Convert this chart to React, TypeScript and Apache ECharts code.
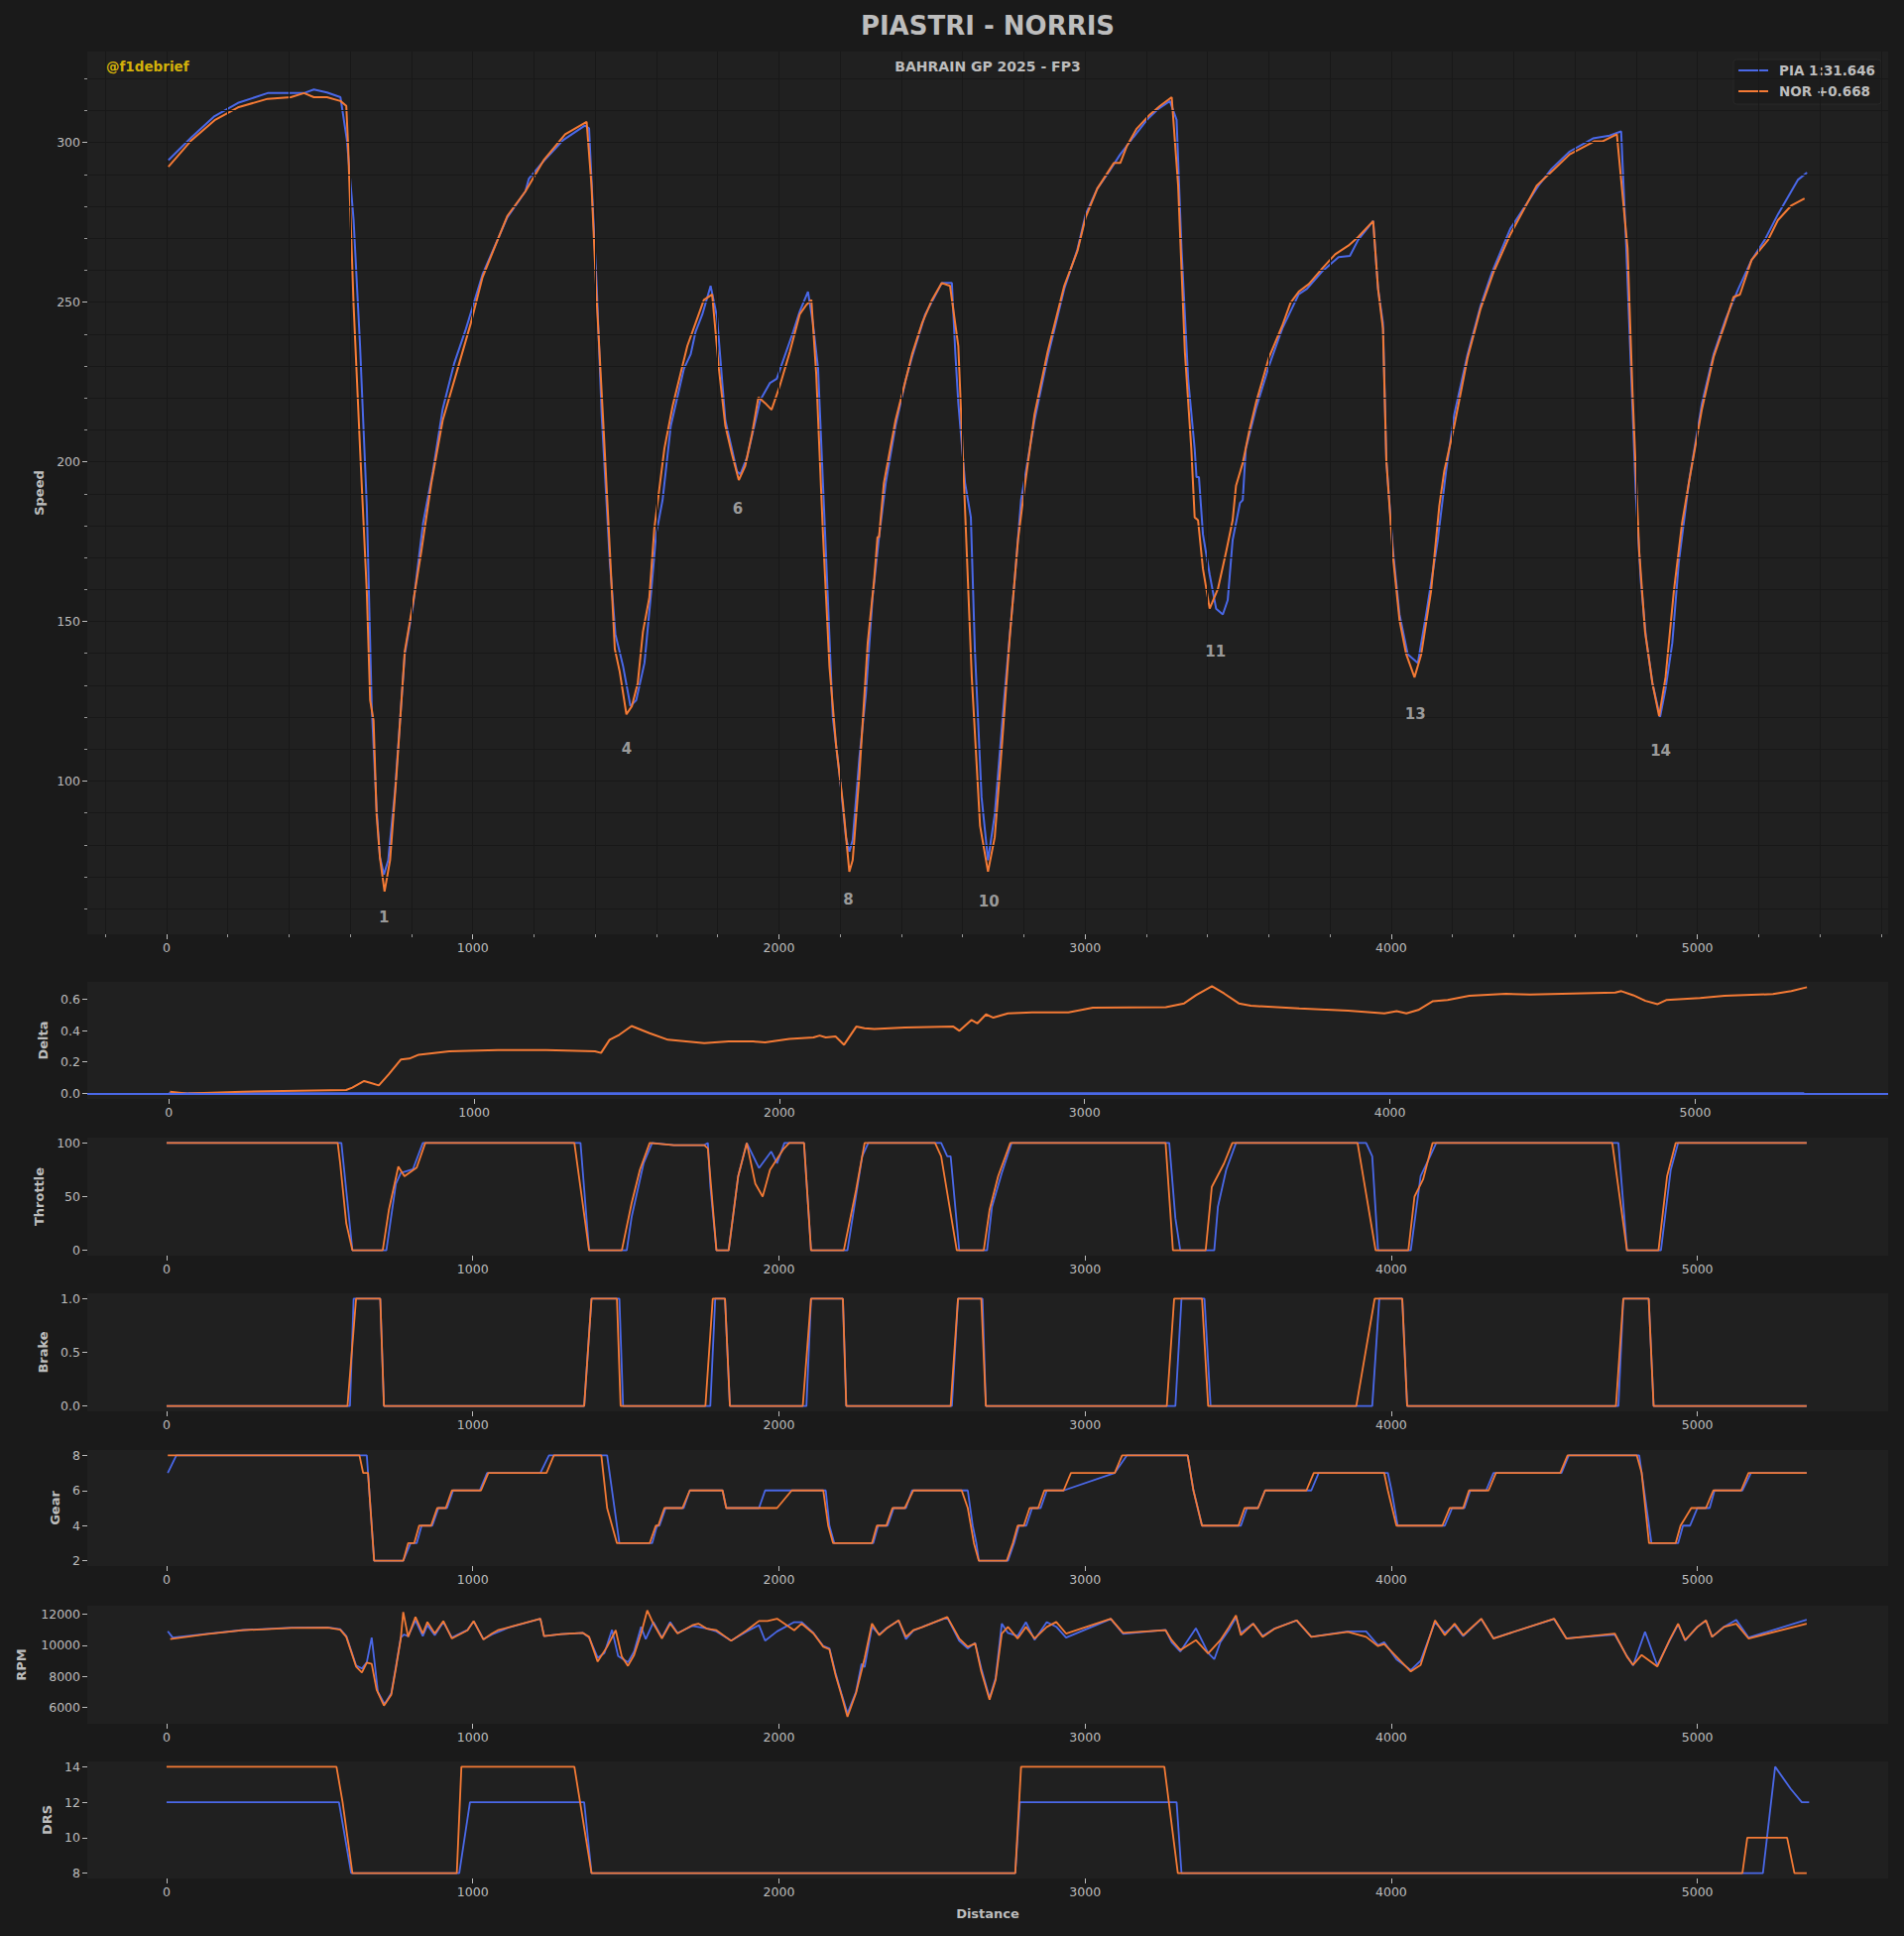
import React, { useEffect, useRef } from "react";
import * as echarts from "echarts";

const PIA_NAME = "PIA 1:31.646";
const NOR_NAME = "NOR +0.668";

const speedPIA: number[][] = [
  [6,294.5],[82,301.7],[157,308.3],[233,312.4],[330,315.5],[406,315.5],[449,315.5],[481,316.6],[524,315.7],[568,314.2],
  [589,300.8],[611,275.7],[632,236.3],[654,186.2],[670,123.5],[686,91.3],[697,76.1],[710,70.7],[724,75.2],[746,96.7],
  [778,139.7],[805,154.9],[838,180.9],[870,197],[902,216.6],[940,231],[978,241.7],[1032,258.7],[1113,276.6],[1172,284.7],
  [1183,288.6],[1226,293.6],[1296,300.8],[1366,305.3],[1380,304.5],[1392,280],[1405,255],[1421,215],[1448,168.3],[1466,146],
  [1491,136],[1515,123.5],[1534,125.3],[1561,137],[1583,159.4],[1599,177.3],[1620,188],[1647,211.3],[1690,229.2],[1712,233.7],
  [1728,240.8],[1750,246.2],[1777,255.1],[1798,245.3],[1825,213],[1863,197],[1874,196.1],[1896,201.4],[1939,219.3],[1971,224.7],
  [1993,226],[2047,240.8],[2068,247.1],[2095,253.3],[2111,243.5],[2128,229.2],[2155,168.3],[2176,120],[2198,102.1],[2219,82.4],
  [2230,77.9],[2241,81.5],[2263,107.4],[2284,127.1],[2306,157.6],[2327,176.4],[2349,193.4],[2381,211.3],[2414,225.6],[2435,232.8],
  [2478,246.2],[2532,256],[2565,256],[2576,234.5],[2586,218.4],[2608,193.4],[2627,182.6],[2640,141.4],[2662,94.9],[2683,75.2],
  [2705,89.5],[2737,127.1],[2770,162.9],[2791,188],[2835,213],[2878,232.8],[2932,254.2],[2975,266.5],[3002,277.5],[3040,285.6],
  [3072,290],[3115,296.3],[3158,301.7],[3202,307.1],[3240,310.6],[3277,313],[3299,307.1],[3315,266.8],[3337,225.6],[3358,204.1],
  [3364,195.2],[3372,195.2],[3385,177.3],[3407,164.7],[3428,154],[3450,152.2],[3466,156.7],[3482,175.5],[3506,187.1],[3515,188],
  [3525,204.1],[3558,216.6],[3601,230.1],[3644,241.7],[3698,252.5],[3725,254.2],[3774,259.6],[3828,264.1],[3865,264.5],[3892,269.5],
  [3941,275.4],[3957,254.2],[3973,243.5],[3984,200.5],[4006,171.9],[4027,152.2],[4054,139.7],[4087,137],[4114,152.2],[4152,175.5],
  [4179,197],[4206,214.9],[4249,233.5],[4292,248.9],[4330,259.6],[4389,273],[4438,280.2],[4481,286.5],[4524,291.8],[4583,297.2],
  [4659,301.3],[4713,302.2],[4751,303.5],[4767,268.6],[4783,229.2],[4799,189.8],[4815,162.9],[4832,145],[4853,130.7],[4878,120],
  [4896,128.9],[4918,143.2],[4939,168.3],[4972,193.4],[5015,218.4],[5053,233.7],[5091,244.4],[5134,254.2],[5177,263.2],[5220,269.5],
  [5263,277.5],[5328,288.3],[5358,290.6]
];

const speedNOR: number[][] = [
  [6,292.4],[82,300.8],[157,307],[233,311],[330,313.7],[406,314.2],[449,315.5],[481,314.2],[524,314.2],[568,313],
  [587,311.5],[593,299],[611,248.9],[632,204],[654,159.3],[665,125.3],[676,119],[686,89.5],[697,76],[712,65.4],
  [730,75.2],[751,102],[778,140.6],[805,155.8],[832,171.9],[865,193.4],[902,213],[951,229.2],[994,243.5],[1032,257.8],
  [1113,277],[1172,284.7],[1232,294.5],[1302,302.6],[1372,306.5],[1388,286.5],[1404,252.4],[1426,213],[1448,171.9],[1464,141.4],
  [1480,134.3],[1502,120.9],[1520,123.5],[1539,130.7],[1556,146.8],[1577,157.6],[1593,179],[1626,204.1],[1653,217.5],[1701,236.3],
  [1728,243.5],[1755,250.7],[1782,252.4],[1804,229.2],[1825,211.3],[1847,202.3],[1869,194.3],[1890,198.7],[1912,208.6],[1933,220.2],
  [1955,218.4],[1976,216.3],[2003,223.8],[2036,234.5],[2068,246.2],[2090,249.2],[2106,250.7],[2122,227.4],[2144,177.3],[2165,136.1],
  [2187,111],[2209,93.1],[2230,71.6],[2241,75.2],[2263,102.1],[2290,143.2],[2311,162.9],[2322,176.4],[2327,176.4],[2343,193.4],
  [2381,213],[2414,225.6],[2435,233.7],[2468,243.5],[2500,250.7],[2532,256],[2559,255.1],[2586,236.3],[2603,197],[2630,132.5],
  [2657,86],[2683,71.6],[2705,82.4],[2727,109.2],[2754,145],[2781,175.5],[2802,191.6],[2835,214.9],[2878,234.5],[2932,255.1],
  [2975,266],[3002,276.6],[3040,285.6],[3094,293.6],[3115,293.6],[3137,299],[3169,304.4],[3212,308.8],[3245,311.5],[3283,314.2],
  [3304,286.5],[3326,234.5],[3347,204.1],[3358,182.6],[3369,181.7],[3385,166.5],[3407,154],[3434,160.2],[3461,171.9],[3482,181.7],
  [3493,192.5],[3515,199.6],[3536,209.5],[3558,218.4],[3601,232.8],[3644,242.6],[3671,249.8],[3698,253.3],[3731,255.7],[3774,260.5],
  [3817,265],[3860,267.7],[3892,270.4],[3941,275.4],[3957,254.2],[3973,241.7],[3984,200.5],[4006,170.1],[4027,150.4],[4049,139.7],
  [4076,132.5],[4098,139.7],[4130,159.4],[4157,186.2],[4173,197],[4206,211.3],[4249,232.4],[4292,248],[4335,259.6],[4389,271.2],
  [4475,286.5],[4524,290.9],[4583,296.3],[4664,300.4],[4691,300.4],[4737,302.6],[4751,288.3],[4772,266.8],[4788,222],[4810,171.9],
  [4829,146.8],[4853,130.7],[4875,120.3],[4896,132.5],[4923,159.4],[4950,180.8],[4977,196.1],[5015,216.6],[5053,232.8],[5091,243.5],
  [5118,251.6],[5139,252.4],[5177,263.2],[5231,269.5],[5263,275.7],[5306,280.2],[5350,282.5]
];

const deltaPIA: number[][] = [[0, 0], [5357, 0]];

const deltaNOR: number[][] = [
  [4,0.01],[64,-0.002],[243,0.01],[581,0.021],[601,0.036],[640,0.078],[660,0.067],[688,0.05],[720,0.12],[760,0.215],
  [788,0.221],[819,0.246],[919,0.267],[1078,0.276],[1237,0.276],[1396,0.267],[1416,0.257],[1444,0.341],[1476,0.373],[1516,0.429],
  [1575,0.383],[1635,0.341],[1754,0.32],[1834,0.33],[1914,0.33],[1953,0.324],[2033,0.347],[2112,0.356],[2132,0.368],[2152,0.356],
  [2184,0.362],[2212,0.309],[2252,0.425],[2279,0.415],[2311,0.41],[2411,0.419],[2570,0.425],[2590,0.398],[2629,0.467],[2649,0.446],
  [2677,0.503],[2701,0.482],[2749,0.509],[2828,0.516],[2947,0.516],[3027,0.545],[3266,0.549],[3326,0.573],[3365,0.625],[3417,0.682],
  [3457,0.636],[3505,0.573],[3544,0.558],[3703,0.541],[3863,0.526],[3982,0.509],[4022,0.524],[4054,0.509],[4093,0.531],[4141,0.587],
  [4189,0.594],[4260,0.621],[4380,0.634],[4459,0.629],[4738,0.642],[4758,0.651],[4797,0.625],[4837,0.589],[4877,0.568],[4905,0.594],
  [5016,0.608],[5096,0.621],[5255,0.632],[5315,0.651],[5366,0.676]
];

const throttlePIA: number[][] = [
  [0,100],[571,100],[607,0],[718,0],[749,62],[765,72],[805,75.6],[837,100],[1352,100],[1380,0],
  [1503,0],[1519,31],[1558,81],[1586,100],[1657,98],[1756,98],[1768,100],[1776,60],[1796,0],[1836,0],
  [1867,69],[1895,100],[1935,76.6],[1975,92],[1994,81],[2018,100],[2082,100],[2105,0],[2224,0],[2272,87.5],
  [2292,100],[2530,100],[2550,87.5],[2561,87.5],[2589,0],[2680,0],[2696,40.6],[2728,72],[2760,100],[3275,100],
  [3295,30],[3311,0],[3422,0],[3434,40.6],[3461,75],[3493,100],[3918,100],[3938,87.5],[3957,0],[4064,0],
  [4096,69],[4127,87.5],[4147,100],[4742,100],[4770,0],[4881,0],[4913,75],[4937,100],[5357,100]
];

const throttleNOR: number[][] = [
  [0,100],[559,100],[567,81],[587,25],[607,0],[706,0],[726,37.5],[757,78],[777,69],[817,77],
  [845,100],[1332,100],[1380,0],[1487,0],[1519,44],[1546,75],[1578,100],[1657,98],[1756,98],[1768,95],
  [1796,0],[1836,0],[1867,69],[1895,100],[1923,62],[1947,50],[1971,75],[2014,94],[2034,100],[2082,100],
  [2105,0],[2212,0],[2252,56],[2280,100],[2510,100],[2530,87.5],[2581,0],[2669,0],[2688,37.5],[2716,69],
  [2756,100],[3263,100],[3287,0],[3394,0],[3414,59],[3454,81],[3481,100],[3890,100],[3949,0],[4056,0],
  [4076,50],[4104,66],[4135,100],[4722,100],[4770,0],[4873,0],[4901,69],[4929,100],[5357,100]
];

const brakePIA: number[][] = [
  [0,0],[599,0],[611,1],[698,1],[710,0],[1364,0],[1388,1],[1479,1],[1491,0],[1776,0],
  [1792,1],[1824,1],[1840,0],[2090,0],[2105,1],[2209,1],[2220,0],[2565,0],[2585,1],[2665,1],
  [2676,0],[3295,0],[3315,1],[3390,1],[3410,0],[3938,0],[3961,1],[4036,1],[4052,0],[4742,0],
  [4758,1],[4841,1],[4857,0],[5357,0]
];

const brakeNOR: number[][] = [
  [0,0],[591,0],[619,1],[698,1],[710,0],[1364,0],[1388,1],[1471,1],[1483,0],[1760,0],
  [1784,1],[1824,1],[1840,0],[2078,0],[2105,1],[2209,1],[2220,0],[2561,0],[2585,1],[2661,1],
  [2676,0],[3267,0],[3291,1],[3382,1],[3402,0],[3886,0],[3946,1],[4036,1],[4052,0],[4734,0],
  [4758,1],[4841,1],[4857,0],[5357,0]
];

const gearPIA: number[][] = [
  [4,7],[32,8],[654,8],[678,2],[773,2],[797,3],[817,3],[833,4],[868,4],[888,5],
  [916,5],[936,6],[1023,6],[1047,7],[1221,7],[1249,8],[1439,8],[1479,3],[1586,3],[1602,4],
  [1610,4],[1630,5],[1689,5],[1709,6],[1816,6],[1828,5],[1935,5],[1955,6],[2153,6],[2165,4],
  [2181,3],[2308,3],[2324,4],[2355,4],[2375,5],[2415,5],[2435,6],[2617,6],[2633,4],[2645,3],
  [2653,2],[2748,2],[2768,3],[2784,4],[2808,4],[2827,5],[2855,5],[2875,6],[2930,6],[3097,7],
  [3137,8],[3335,8],[3354,6],[3382,4],[3509,4],[3529,5],[3565,5],[3588,6],[3739,6],[3763,7],
  [3989,7],[4001,6],[4021,4],[4175,4],[4199,5],[4239,5],[4258,6],[4310,6],[4334,7],[4556,7],
  [4580,8],[4810,8],[4850,3],[4937,3],[4953,4],[4976,4],[5000,5],[5040,5],[5056,6],[5147,6],
  [5175,7],[5357,7]
];

const gearNOR: number[][] = [
  [4,8],[630,8],[642,7],[658,7],[678,2],[773,2],[789,3],[809,3],[825,4],[864,4],
  [884,5],[912,5],[932,6],[1027,6],[1051,7],[1241,7],[1265,8],[1420,8],[1439,5],[1471,3],
  [1578,3],[1598,4],[1606,4],[1626,5],[1685,5],[1709,6],[1816,6],[1828,5],[1994,5],[2042,6],
  [2145,6],[2161,4],[2177,3],[2304,3],[2320,4],[2351,4],[2371,5],[2411,5],[2439,6],[2597,6],
  [2617,5],[2637,3],[2653,2],[2744,2],[2764,3],[2780,4],[2800,4],[2819,5],[2847,5],[2867,6],
  [2930,6],[2954,7],[3097,7],[3121,8],[3335,8],[3354,6],[3382,4],[3501,4],[3521,5],[3565,5],
  [3588,6],[3723,6],[3747,7],[3977,7],[3989,6],[4017,4],[4167,4],[4191,5],[4235,5],[4254,6],
  [4318,6],[4342,7],[4552,7],[4576,8],[4802,8],[4818,7],[4842,3],[4929,3],[4945,4],[4980,5],
  [5028,5],[5052,6],[5143,6],[5167,7],[5357,7]
];

const rpmPIA: number[][] = [
  [4,10911],[20,10500],[131,10740],[250,10990],[408,11140],[527,11160],[567,11040],[587,10600],[619,8700],[638,8500],
  [654,8900],[670,10500],[680,8800],[690,7000],[712,6200],[734,6900],[749,8600],[765,10500],[775,10700],[789,10600],
  [813,11600],[837,10600],[852,11300],[876,10650],[904,11500],[932,10500],[983,11000],[1003,11550],[1035,10400],[1063,10700],
  [1122,11180],[1221,11720],[1233,10600],[1289,10720],[1360,10800],[1380,10500],[1408,9200],[1430,9500],[1455,11000],[1475,9300],
  [1507,8900],[1527,9600],[1550,11200],[1565,10400],[1590,11500],[1618,10500],[1645,11500],[1669,10800],[1717,11250],[1764,11100],
  [1796,10900],[1844,10300],[1895,10900],[1935,11300],[1955,10300],[1994,10900],[2050,11500],[2074,11500],[2113,10800],[2145,9950],
  [2165,9800],[2185,8200],[2204,6900],[2224,5600],[2252,7000],[2270,8800],[2280,8600],[2304,11200],[2328,10700],[2351,11100],
  [2391,11600],[2415,10400],[2439,10950],[2470,11200],[2550,11800],[2589,10300],[2617,9800],[2641,10150],[2661,8500],[2688,6600],
  [2708,7900],[2728,11400],[2748,10800],[2780,10600],[2807,11500],[2835,10350],[2875,11500],[2906,11200],[2938,10500],[3084,11700],
  [3124,10750],[3263,11000],[3283,10200],[3311,9600],[3362,11100],[3402,9500],[3422,9100],[3442,10200],[3470,11000],[3493,11800],
  [3509,10800],[3549,11400],[3580,10600],[3620,11100],[3691,11600],[3739,10550],[3858,10900],[3918,10900],[3957,10000],[3977,10200],
  [4017,9100],[4064,8400],[4096,9000],[4143,11500],[4175,10800],[4207,11300],[4235,10600],[4294,11700],[4334,10450],[4532,11700],
  [4572,10450],[4730,10700],[4770,9300],[4790,8700],[4829,10868],[4869,8700],[4909,10300],[4937,11350],[4960,10300],[5000,11200],
  [5028,11600],[5048,10550],[5087,11200],[5127,11650],[5167,10500],[5357,11658]
];

const rpmNOR: number[][] = [
  [12,10399],[131,10719],[250,10975],[408,11125],[527,11146],[567,11018],[587,10548],[619,8627],[638,8242],[654,8883],
  [670,8798],[686,7132],[710,6107],[734,6812],[749,8520],[765,10441],[773,12149],[789,10548],[813,11829],[837,10762],
  [852,11509],[876,10762],[904,11573],[932,10441],[983,10975],[1003,11573],[1035,10377],[1063,10762],[1082,10975],[1122,11189],
  [1221,11722],[1233,10591],[1289,10719],[1360,10804],[1380,10548],[1408,8947],[1439,9908],[1467,10975],[1487,9267],[1507,8670],
  [1527,9374],[1550,10762],[1570,12256],[1590,11402],[1618,10441],[1645,11402],[1669,10762],[1717,11295],[1737,11402],[1764,11082],
  [1796,10975],[1844,10292],[1895,10975],[1935,11573],[1963,11573],[1994,11722],[2026,11295],[2050,10975],[2074,11402],[2113,10762],
  [2145,9908],[2165,9737],[2185,8093],[2204,6812],[2224,5381],[2252,6919],[2280,9160],[2304,11402],[2328,10655],[2351,11082],
  [2391,11616],[2415,10548],[2439,10975],[2470,11189],[2550,11829],[2589,10441],[2617,9908],[2641,10121],[2661,8306],[2688,6492],
  [2708,7773],[2728,10762],[2748,11189],[2780,10441],[2807,11189],[2835,10441],[2875,11189],[2906,11509],[2938,10762],[3084,11722],
  [3124,10804],[3263,10975],[3283,10335],[3311,9694],[3362,10335],[3402,9481],[3442,10335],[3470,11189],[3493,11936],[3509,10655],
  [3549,11402],[3580,10548],[3620,11082],[3691,11616],[3739,10548],[3858,10868],[3918,10548],[3957,9950],[3977,10078],[4017,9267],
  [4064,8306],[4096,8733],[4143,11616],[4175,10655],[4207,11402],[4235,10655],[4294,11722],[4334,10441],[4532,11722],[4572,10441],
  [4730,10762],[4770,9267],[4790,8733],[4818,9374],[4869,8627],[4909,10335],[4937,11402],[4960,10335],[5000,11189],[5028,11616],
  [5048,10548],[5087,11189],[5127,11402],[5167,10441],[5357,11402]
];

const drsPIA: number[][] = [
  [0,12],[563,12],[603,8],[956,8],[991,12],[1364,12],[1388,8],[2772,8],[2787,12],[3299,12],
  [3315,8],[5214,8],[5254,14],[5305,12.75],[5341,12],[5365,12]
];

const drsNOR: number[][] = [
  [0,14],[555,14],[575,12],[607,8],[948,8],[963,14],[1332,14],[1388,8],[2772,8],[2791,14],
  [3259,14],[3303,8],[5147,8],[5163,10],[5293,10],[5317,8],[5357,8]
];

const cornerNames = ["1", "4", "6", "8", "10", "11", "13", "14"];
const cornerDistance = [710, 1503, 1866, 2227, 2686, 3426, 4079, 4880];
const cornerLabelSpeed = [57.3, 110.1, 185.3, 63, 62.3, 140.6, 120.9, 109.6];

const distanceTicks = [0, 1000, 2000, 3000, 4000, 5000];
const speedTicks = [100, 150, 200, 250, 300];
const deltaTicks = [0, 0.2, 0.4, 0.6];
const throttleTicks = [0, 50, 100];
const brakeTicks = [0, 0.5, 1];
const gearTicks = [2, 4, 6, 8];
const rpmTicks = [6000, 8000, 10000, 12000];
const drsTicks = [8, 10, 12, 14];

const PIA_COLOR = "#4a68e8";
const NOR_COLOR = "#f47a35";
const TEXT = "#bdbdbd";
const FONT = "DejaVu Sans";
const FIG_BG = "#1a1a1a";
const AX_BG = "#202020";
const GRID_COLOR = "#181818";

function range(a: number, b: number, step: number): number[] {
  const out: number[] = [];
  for (let v = a; v <= b + 1e-9; v += step) out.push(Math.round(v * 1000) / 1000);
  return out;
}

function buildOption() {
  const oneDec = (v: number) => v.toFixed(1);
  const plain = (v: number) => String(v);
  const panels = [
    { name: "Speed", top: 52, height: 890, min: 52, max: 328.5, ticks: speedTicks, fmt: plain, gap: 41, xmin: -259, xmax: 5623, pia: speedPIA, nor: speedNOR, w: 2 },
    { name: "Delta", top: 990, height: 118, min: -0.036, max: 0.71, ticks: deltaTicks, fmt: oneDec, gap: 38, xmin: -267, xmax: 5632, pia: deltaPIA, nor: deltaNOR, w: 2 },
    { name: "Throttle", top: 1147, height: 119, min: -5, max: 105, ticks: throttleTicks, fmt: plain, gap: 41, xmin: -259, xmax: 5623, pia: throttlePIA, nor: throttleNOR, w: 1.8 },
    { name: "Brake", top: 1304, height: 119, min: -0.05, max: 1.05, ticks: brakeTicks, fmt: oneDec, gap: 38, xmin: -259, xmax: 5623, pia: brakePIA, nor: brakeNOR, w: 1.8 },
    { name: "Gear", top: 1462, height: 117, min: 1.7, max: 8.3, ticks: gearTicks, fmt: plain, gap: 26, xmin: -259, xmax: 5623, pia: gearPIA, nor: gearNOR, w: 1.8 },
    { name: "RPM", top: 1619, height: 119, min: 4930, max: 12560, ticks: rpmTicks, fmt: plain, gap: 60, xmin: -259, xmax: 5623, pia: rpmPIA, nor: rpmNOR, w: 1.8 },
    { name: "DRS", top: 1776, height: 118, min: 7.7, max: 14.3, ticks: drsTicks, fmt: plain, gap: 34, xmin: -259, xmax: 5623, pia: drsPIA, nor: drsNOR, w: 1.8 },
  ];

  const labelStyle = { color: TEXT, fontSize: 12.5, fontFamily: FONT };
  const nameStyle = { color: TEXT, fontSize: 13, fontWeight: "bold", fontFamily: FONT };

  const grid = panels.map((p) => ({
    left: 88, right: 16, top: p.top, height: p.height,
    show: true, backgroundColor: AX_BG, borderWidth: 0, z: 0,
  }));

  const xAxis: any[] = panels.map((p, i) => ({
    type: "value", gridIndex: i, min: p.xmin, max: p.xmax, position: "bottom",
    axisLine: { show: false, onZero: false },
    axisTick: { show: true, length: 5, customValues: distanceTicks, lineStyle: { color: TEXT, width: 1 } },
    axisLabel: { show: true, customValues: distanceTicks, margin: 7, formatter: plain, ...labelStyle },
    splitLine: { show: false },
    ...(i === 6 ? { name: "Distance", nameLocation: "middle", nameGap: 29, nameTextStyle: nameStyle } : {}),
  }));
  const xMinor = range(-200, 5600, 200).filter((v) => v % 1000 !== 0);
  xAxis.push({
    type: "value", gridIndex: 0, min: -259, max: 5623, position: "bottom", offset: 0,
    axisLine: { show: false, onZero: false },
    axisTick: { show: true, length: 3, customValues: xMinor, lineStyle: { color: TEXT, width: 0.8 } },
    axisLabel: { show: false },
    splitLine: { show: false },
  });

  const yAxis: any[] = panels.map((p, i) => ({
    type: "value", gridIndex: i, min: p.min, max: p.max, position: "left",
    axisLine: { show: false, onZero: false },
    axisTick: { show: true, length: 5, customValues: p.ticks, lineStyle: { color: TEXT, width: 1 } },
    axisLabel: { show: true, customValues: p.ticks, margin: 7, formatter: p.fmt, ...labelStyle },
    splitLine: { show: false },
    name: p.name, nameLocation: "middle", nameRotate: 90, nameGap: p.gap, nameTextStyle: nameStyle,
  }));
  const yMinor = range(60, 320, 10).filter((v) => v % 50 !== 0);
  yAxis.push({
    type: "value", gridIndex: 0, min: 52, max: 328.5, position: "left", offset: 0,
    axisLine: { show: false, onZero: false },
    axisTick: { show: true, length: 3, customValues: yMinor, lineStyle: { color: TEXT, width: 0.8 } },
    axisLabel: { show: false },
    splitLine: { show: false },
  });

  const series: any[] = [];
  series.push({
    type: "line", name: "grid", xAxisIndex: 0, yAxisIndex: 0, z: 1,
    data: [[0, 52]], symbol: "none", lineStyle: { opacity: 0 }, silent: true,
    markLine: {
      silent: true, symbol: ["none", "none"], label: { show: false },
      lineStyle: { color: GRID_COLOR, width: 1, type: "solid" },
      data: [
        ...range(-200, 5600, 200).map((v) => ({ xAxis: v })),
        ...range(60, 320, 10).map((v) => ({ yAxis: v })),
      ],
    },
  });

  panels.forEach((p, i) => {
    const piaSeries: any = {
      type: "line", name: PIA_NAME, xAxisIndex: i, yAxisIndex: i, z: 3,
      data: p.pia, symbol: "none", color: PIA_COLOR,
      lineStyle: { color: PIA_COLOR, width: p.w }, silent: true,
    };
    if (p.name === "Delta") {
      piaSeries.markLine = {
        silent: true, symbol: ["none", "none"], label: { show: false },
        lineStyle: { color: PIA_COLOR, width: 2.2, type: "solid" },
        data: [{ yAxis: 0 }],
      };
    }
    series.push(piaSeries);
    series.push({
      type: "line", name: NOR_NAME, xAxisIndex: i, yAxisIndex: i, z: 4,
      data: p.nor, symbol: "none", color: NOR_COLOR,
      lineStyle: { color: NOR_COLOR, width: p.w }, silent: true,
    });
  });

  series.push({
    type: "scatter", name: "corners", xAxisIndex: 0, yAxisIndex: 0, z: 5,
    symbolSize: 1, itemStyle: { color: "rgba(0,0,0,0)" }, silent: true,
    data: cornerNames.map((n, k) => [cornerDistance[k], cornerLabelSpeed[k], n]),
    label: {
      show: true, position: "inside", formatter: (prm: any) => prm.data[2],
      color: TEXT, fontSize: 15, fontWeight: "bold", fontFamily: FONT,
    },
  });

  return {
    animation: false,
    backgroundColor: FIG_BG,
    textStyle: { fontFamily: FONT },
    legend: {
      data: [PIA_NAME, NOR_NAME], orient: "vertical", right: 23, top: 60,
      icon: "rect", itemWidth: 30, itemHeight: 2, itemGap: 7,
      padding: [4, 6, 6, 5],
      backgroundColor: "#1c1c1c", borderColor: "#282828", borderWidth: 1, borderRadius: 3,
      textStyle: { color: TEXT, fontSize: 13.5, fontWeight: "bold", fontFamily: FONT, padding: [0, 0, 0, 6] },
      selectedMode: false,
    },
    graphic: [
      {
        type: "text", x: 996, y: 26, silent: true, z: 100,
        style: { text: "PIASTRI - NORRIS", fill: TEXT, font: `bold 26px '${FONT}'`, textAlign: "center", textVerticalAlign: "middle", align: "center", verticalAlign: "middle" },
      },
      {
        type: "text", x: 107, y: 67, silent: true, z: 100,
        style: { text: "@f1debrief", fill: "#d4b20a", font: `bold 13.5px '${FONT}'`, textAlign: "left", textVerticalAlign: "middle", align: "left", verticalAlign: "middle" },
      },
      {
        type: "text", x: 996, y: 67, silent: true, z: 100,
        style: { text: "BAHRAIN GP 2025 - FP3", fill: TEXT, font: `bold 14px '${FONT}'`, textAlign: "center", textVerticalAlign: "middle", align: "center", verticalAlign: "middle" },
      },
    ],
    grid, xAxis, yAxis, series,
  };
}

export default function App() {
  const ref = useRef<HTMLDivElement>(null);
  useEffect(() => {
    document.body.style.margin = "0";
    document.body.style.background = FIG_BG;
    if (!ref.current) return;
    const chart = echarts.init(ref.current, undefined, { renderer: "svg" });
    chart.setOption(buildOption() as any);
    return () => chart.dispose();
  }, []);
  return <div ref={ref} style={{ width: 1920, height: 1952, background: FIG_BG }} />;
}
